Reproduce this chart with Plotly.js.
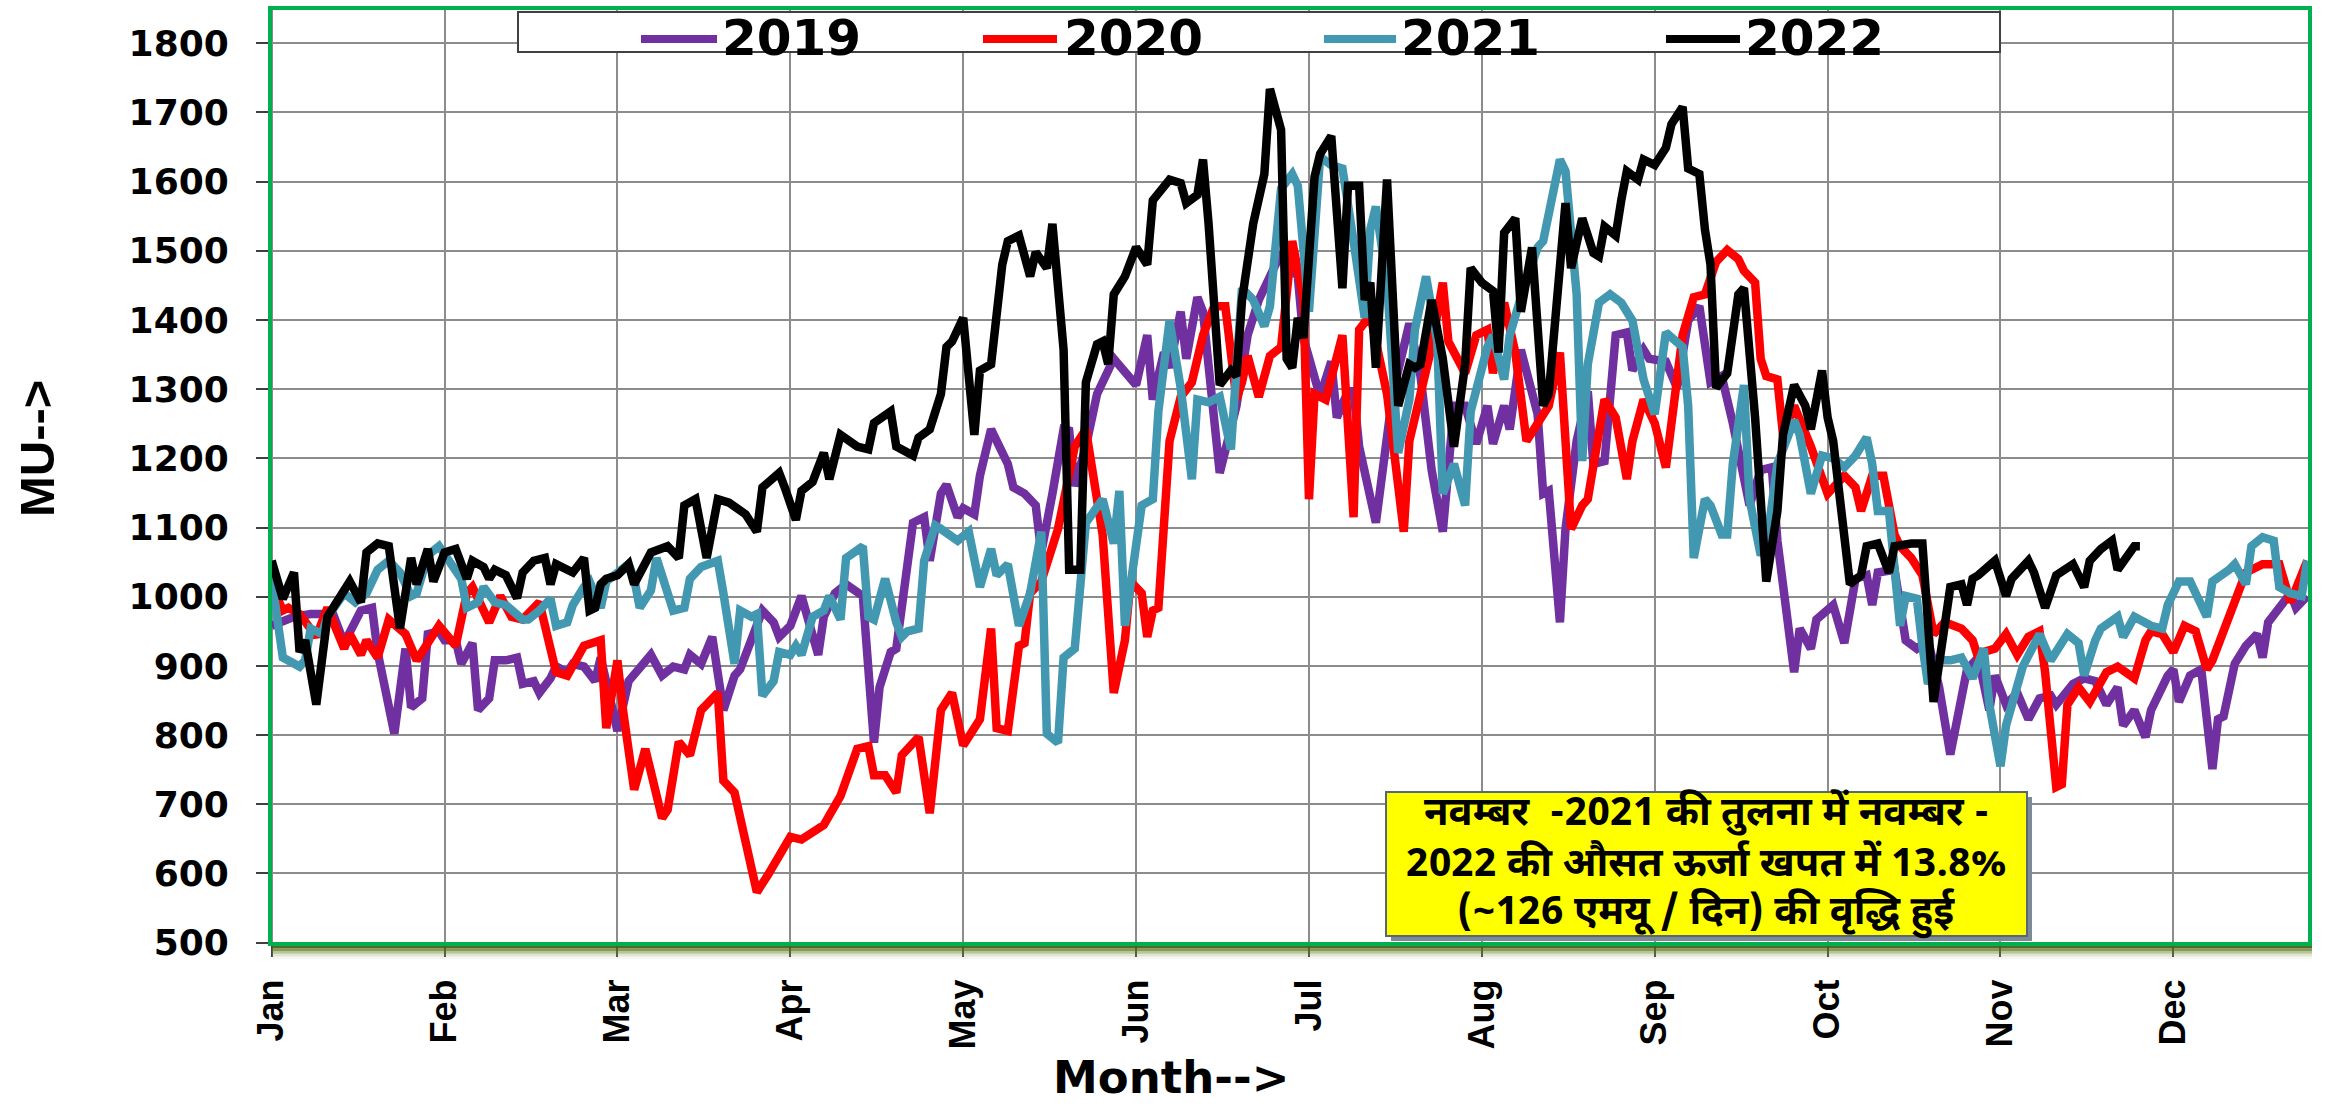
<!DOCTYPE html>
<html>
<head>
<meta charset="utf-8">
<script src="https://cdn.plot.ly/plotly-3.0.1.min.js"></script>
<style>
html,body{margin:0;padding:0;background:#ffffff;}
#chart{width:2328px;height:1108px;}
</style>
</head>
<body>
<div id="chart"></div>
<script>
// ---- data: [day of year index, MU] ----
const pts2019 = [[0,958],[4,971],[7,975],[11,975],[13,933],[16,980],[18,984],[19,920],[22,802],[23,869],[24,925],[25,840],[27,853],[28,946],[30,950],[31,937],[33,937],[34,903],[36,933],[37,836],[39,853],[40,908],[42,908],[44,912],[45,874],[47,878],[48,861],[50,882],[51,899],[53,891],[54,903],[56,899],[58,878],[59,912],[62,806],[64,878],[66,899],[68,916],[70,886],[72,899],[74,895],[75,916],[77,903],[79,942],[81,836],[83,886],[84,895],[86,937],[88,980],[90,963],[91,942],[93,958],[95,1001],[98,916],[99,971],[101,1005],[103,1018],[106,1001],[107,912],[108,789],[109,869],[111,920],[112,925],[114,1060],[115,1107],[117,1115],[118,1052],[120,1149],[121,1162],[123,1115],[124,1128],[126,1119],[127,1175],[129,1242],[132,1192],[133,1158],[135,1149],[137,1132],[138,1064],[140,1149],[142,1242],[143,1240],[144,1160],[146,1217],[148,1293],[151,1344],[153,1327],[155,1306],[157,1378],[158,1285],[160,1353],[161,1331],[163,1412],[164,1344],[166,1433],[167,1412],[170,1179],[173,1276],[175,1378],[177,1429],[181,1497],[182,1480],[184,1463],[185,1374],[188,1289],[190,1340],[191,1259],[193,1297],[194,1297],[195,1217],[198,1107],[199,1166],[201,1293],[204,1395],[206,1319],[208,1183],[210,1094],[212,1276],[214,1276],[216,1221],[218,1276],[219,1221],[221,1276],[222,1242],[224,1357],[227,1264],[228,1149],[229,1153],[231,963],[232,1098],[234,1225],[236,1297],[237,1192],[239,1196],[241,1378],[243,1382],[244,1327],[246,1357],[247,1344],[250,1340],[252,1302],[254,1399],[256,1420],[258,1310],[260,1319],[262,1251],[265,1132],[267,1183],[269,1187],[270,1081],[273,891],[274,954],[276,925],[277,967],[278,975],[280,988],[282,933],[283,988],[284,1026],[286,1031],[287,988],[288,1035],[291,1039],[293,937],[295,925],[297,937],[299,869],[301,772],[303,848],[304,895],[306,912],[308,836],[309,886],[311,844],[313,861],[315,823],[317,853],[319,857],[320,844],[323,874],[325,882],[327,878],[329,844],[331,869],[332,814],[334,836],[336,797],[337,836],[340,886],[341,895],[342,848],[344,886],[346,895],[348,751],[349,823],[350,827],[352,903],[354,929],[356,946],[357,912],[358,963],[360,984],[362,1005],[363,984],[365,1001]];

const pts2020 = [[0,1018],[2,980],[3,984],[5,975],[8,942],[10,984],[13,925],[14,946],[16,916],[17,937],[19,912],[21,967],[24,946],[26,908],[28,933],[30,958],[33,929],[35,1005],[36,1014],[39,963],[41,1001],[43,971],[45,967],[48,992],[51,891],[53,886],[56,929],[59,937],[60,810],[62,908],[63,836],[65,721],[67,780],[70,680],[71,692],[73,790],[75,771],[77,836],[80,861],[81,734],[83,717],[87,573],[89,598],[93,653],[95,649],[97,661],[99,670],[102,712],[103,734],[105,780],[107,784],[108,742],[110,742],[112,717],[113,771],[116,797],[118,687],[120,836],[122,861],[124,785],[127,823],[129,954],[130,810],[132,806],[134,929],[135,933],[136,1005],[138,1022],[141,1098],[143,1170],[144,1217],[146,1242],[149,1090],[151,861],[153,937],[154,1022],[156,1005],[157,942],[158,980],[159,984],[161,1225],[163,1289],[165,1310],[167,1378],[169,1420],[171,1420],[173,1285],[174,1310],[175,1348],[177,1289],[179,1348],[181,1361],[183,1514],[185,1430],[186,1141],[187,1293],[189,1285],[192,1378],[194,1115],[195,1386],[197,1407],[200,1293],[203,1094],[204,1225],[206,1293],[208,1361],[210,1454],[211,1369],[214,1323],[216,1378],[218,1386],[219,1323],[221,1425],[223,1353],[225,1225],[227,1251],[229,1276],[231,1353],[233,1098],[235,1132],[236,1141],[239,1285],[241,1259],[243,1170],[244,1225],[246,1285],[248,1251],[250,1187],[252,1327],[253,1378],[255,1433],[257,1437],[259,1484],[261,1501],[263,1488],[264,1471],[266,1454],[267,1344],[268,1319],[270,1314],[271,1234],[273,1276],[276,1217],[279,1149],[282,1175],[284,1158],[285,1124],[287,1175],[289,1175],[291,1090],[292,1073],[294,1056],[296,1031],[298,946],[300,963],[303,954],[305,937],[306,912],[307,920],[309,925],[311,946],[313,916],[315,942],[317,950],[318,891],[320,725],[321,729],[322,844],[324,869],[326,848],[329,891],[331,899],[334,882],[336,937],[337,950],[339,946],[341,920],[343,958],[345,950],[347,895],[348,908],[351,971],[353,1014],[354,1035],[357,1047],[360,1047],[362,992],[363,1014],[365,1052]];

const pts2021 = [[0,1026],[2,912],[5,899],[6,908],[7,954],[9,946],[10,971],[13,1005],[15,992],[17,1005],[19,1039],[21,1052],[23,1035],[25,1001],[26,1005],[28,1060],[30,1073],[31,1060],[34,1026],[35,984],[37,992],[38,1014],[40,992],[42,988],[45,967],[46,967],[48,980],[50,997],[51,958],[53,963],[54,988],[56,1014],[57,1022],[59,984],[60,1022],[64,1047],[65,1026],[66,984],[68,1009],[69,1056],[71,1005],[72,980],[74,984],[75,1026],[77,1043],[80,1052],[81,1005],[83,903],[84,980],[86,971],[87,975],[88,857],[90,878],[91,920],[93,916],[94,929],[95,916],[97,971],[99,980],[100,1001],[102,967],[103,1056],[106,1073],[107,971],[108,967],[110,1026],[112,963],[113,942],[114,950],[116,954],[117,1052],[119,1103],[120,1098],[122,1085],[123,1081],[125,1094],[127,1014],[129,1069],[130,1031],[132,1047],[134,958],[136,1005],[138,1094],[139,802],[141,789],[142,912],[144,925],[146,1107],[149,1141],[151,1077],[152,1153],[153,958],[155,1073],[156,1132],[158,1141],[159,1268],[161,1399],[163,1302],[165,1170],[166,1285],[168,1281],[170,1289],[172,1213],[174,1446],[176,1429],[178,1391],[179,1420],[181,1590],[183,1611],[184,1594],[186,1412],[188,1636],[190,1624],[192,1619],[194,1514],[196,1403],[197,1531],[198,1564],[200,1454],[202,1208],[204,1285],[205,1386],[207,1463],[209,1369],[210,1149],[212,1192],[214,1132],[215,1268],[218,1361],[219,1378],[221,1314],[222,1378],[224,1433],[227,1505],[228,1514],[231,1632],[232,1615],[234,1437],[235,1196],[236,1336],[238,1425],[240,1437],[242,1425],[244,1399],[246,1314],[248,1264],[250,1382],[252,1369],[253,1361],[254,1276],[255,1056],[257,1141],[258,1132],[260,1090],[261,1090],[262,1192],[264,1306],[265,1141],[267,1060],[268,1073],[270,1192],[273,1255],[274,1234],[276,1149],[277,1175],[278,1204],[280,1200],[282,1187],[284,1204],[286,1230],[287,1192],[288,1124],[290,1124],[292,958],[293,1001],[295,997],[296,929],[297,874],[299,908],[301,908],[303,912],[305,882],[307,925],[308,844],[310,755],[311,814],[314,899],[316,933],[317,946],[319,908],[322,946],[324,933],[325,886],[327,937],[328,954],[331,971],[332,942],[334,971],[337,958],[339,954],[340,988],[342,1022],[344,1022],[347,971],[348,1022],[351,1039],[352,1047],[354,1018],[355,1073],[357,1086],[359,1081],[360,1014],[362,1005],[364,1001],[365,1052]];

const pts2022 = [[0,1052],[2,997],[4,1035],[5,920],[6,937],[8,844],[10,971],[14,1022],[16,992],[17,1064],[19,1077],[21,1073],[23,954],[25,1056],[26,1018],[28,1069],[29,1022],[31,1064],[33,1069],[35,1026],[36,1052],[38,1043],[39,1026],[40,1039],[42,1031],[44,998],[45,1035],[47,1052],[49,1056],[50,1018],[51,1047],[54,1035],[56,1056],[57,980],[58,984],[59,1018],[60,1026],[62,1031],[64,1047],[65,1018],[68,1064],[71,1073],[73,1056],[74,1132],[76,1141],[78,1056],[80,1141],[82,1136],[85,1119],[87,1094],[88,1158],[91,1179],[92,1158],[94,1111],[95,1153],[97,1166],[99,1208],[100,1170],[102,1234],[105,1217],[107,1213],[108,1251],[111,1268],[112,1217],[115,1204],[116,1230],[118,1242],[120,1293],[121,1361],[122,1369],[124,1403],[126,1234],[127,1327],[129,1336],[131,1480],[132,1514],[134,1522],[136,1463],[137,1498],[139,1475],[140,1539],[142,1357],[143,1039],[145,1039],[146,1310],[148,1365],[149,1369],[150,1336],[151,1437],[153,1463],[155,1505],[157,1480],[158,1573],[161,1603],[163,1598],[164,1569],[166,1581],[167,1632],[168,1539],[170,1306],[172,1327],[173,1319],[174,1429],[176,1539],[178,1611],[179,1734],[181,1675],[182,1344],[183,1331],[184,1403],[185,1374],[187,1607],[188,1640],[190,1666],[192,1446],[193,1594],[195,1594],[196,1429],[197,1454],[198,1331],[200,1603],[202,1276],[204,1336],[205,1331],[206,1336],[208,1429],[210,1344],[212,1217],[214,1336],[215,1475],[217,1454],[219,1442],[220,1353],[221,1526],[223,1547],[224,1412],[226,1505],[228,1276],[229,1293],[232,1569],[233,1475],[235,1547],[237,1497],[238,1492],[239,1535],[241,1522],[242,1573],[243,1615],[245,1603],[246,1632],[248,1624],[250,1649],[251,1683],[253,1708],[254,1619],[256,1611],[257,1531],[258,1480],[259,1302],[261,1323],[263,1437],[264,1446],[266,1259],[268,1022],[270,1124],[271,1234],[273,1306],[275,1276],[276,1242],[278,1327],[279,1259],[280,1225],[283,1018],[285,1031],[286,1073],[288,1077],[290,1035],[291,1073],[294,1077],[296,1077],[298,848],[301,1014],[303,1018],[304,988],[305,1026],[306,1031],[309,1052],[311,1001],[312,1026],[315,1052],[316,1035],[318,984],[320,1031],[323,1047],[325,1014],[326,1052],[328,1069],[330,1081],[331,1039],[334,1073],[335,1073]];

const seriesNames = ['2019', '2020', '2021', '2022'];
const seriesColors = ['#7030A0', '#FF0000', '#4298B0', '#000000'];
const monthTickDays = [0, 31, 62, 93, 124, 155, 186, 217, 248, 279, 310, 341];
const monthLabels = ['Jan', 'Feb', 'Mar', 'Apr', 'May', 'Jun', 'Jul', 'Aug', 'Sep', 'Oct', 'Nov', 'Dec'];
const noteLines = [
  'नवम्बर  -2021 की तुलना में नवम्बर -',
  '2022 की औसत ऊर्जा खपत में 13.8%',
  '(~126 एमयू / दिन) की वृद्धि हुई'
];
const xTitle = 'Month-->';
const yTitle = 'MU-->';

// ---- geometry helpers (pixel -> paper) ----
const W = 2328, H = 1108, ML = 270, MR = 18, MT = 8, MB = 164;
const PW = W - ML - MR, PH = H - MT - MB;
const px = x => (x - ML) / PW;
const py = y => (H - MB - y) / PH;

const allPts = [pts2019, pts2020, pts2021, pts2022];
const traces = allPts.map((pts, i) => ({
  type: 'scatter',
  mode: 'lines',
  name: seriesNames[i],
  x: pts.map(p => p[0]),
  y: pts.map(p => p[1]),
  line: {color: seriesColors[i], width: 8.5, shape: 'linear'},
  showlegend: false,
  hoverinfo: 'skip'
}));

const shapes = [];
const annotations = [];

// bottom shadow under plot frame
const shadowCols = ['rgba(74,100,20,0.95)', 'rgba(95,120,35,0.75)', 'rgba(120,140,60,0.5)', 'rgba(150,165,90,0.28)', 'rgba(180,190,130,0.12)'];
shadowCols.forEach((c, k) => {
  shapes.push({type: 'rect', xref: 'paper', yref: 'paper', layer: 'above',
    x0: px(272), x1: px(2312), y0: py(946 + 2.6 * (k + 1)), y1: py(946 + 2.6 * k),
    fillcolor: c, line: {width: 0}});
});
// plot frame
shapes.push({type: 'rect', xref: 'paper', yref: 'paper', layer: 'above',
  x0: 0, x1: 1, y0: 0, y1: 1, line: {color: '#00B050', width: 4}, fillcolor: 'rgba(0,0,0,0)'});

// legend box (custom)
shapes.push({type: 'rect', xref: 'paper', yref: 'paper', layer: 'above',
  x0: px(518), x1: px(2000), y0: py(52), y1: py(12),
  fillcolor: '#FFFFFF', line: {color: '#404040', width: 2}});
const legSample = [[641, 717], [983, 1057], [1324, 1396], [1666, 1740]];
const legText = [720, 1062, 1399, 1743];
seriesNames.forEach((n, i) => {
  shapes.push({type: 'line', xref: 'paper', yref: 'paper', layer: 'above',
    x0: px(legSample[i][0]), x1: px(legSample[i][1]), y0: py(39), y1: py(39),
    line: {color: seriesColors[i], width: 8}});
  annotations.push({xref: 'paper', yref: 'paper', x: px(legText[i]), y: py(38),
    xanchor: 'left', yanchor: 'middle', showarrow: false, text: n,
    font: {family: 'DejaVu Sans', size: 50, color: '#000000', weight: 'bold'}});
});

// note box
shapes.push({type: 'rect', xref: 'paper', yref: 'paper', layer: 'above',
  x0: px(1391), x1: px(2032), y0: py(941), y1: py(797),
  fillcolor: '#7d8a96', line: {width: 0}});
shapes.push({type: 'rect', xref: 'paper', yref: 'paper', layer: 'above',
  x0: px(1386), x1: px(2027), y0: py(936), y1: py(792),
  fillcolor: '#FFFF00', line: {color: '#56677a', width: 2}});
const noteY = [815, 866, 914];
noteLines.forEach((t, i) => {
  annotations.push({xref: 'paper', yref: 'paper', x: px(1706), y: py(noteY[i]),
    xanchor: 'center', yanchor: 'middle', showarrow: false, text: t,
    font: {family: 'Noto Sans Devanagari, Lohit Devanagari, Mangal, Noto Sans, sans-serif', size: 40, color: '#000000', weight: 'bold'}});
});

// axis titles
annotations.push({xref: 'paper', yref: 'paper', x: px(1171), y: py(1106),
  xanchor: 'center', yanchor: 'bottom', showarrow: false, text: xTitle,
  font: {family: 'DejaVu Sans', size: 45, color: '#000000', weight: 'bold'}});
annotations.push({xref: 'paper', yref: 'paper', x: px(37), y: py(449),
  xanchor: 'center', yanchor: 'middle', showarrow: false, text: yTitle, textangle: -90,
  font: {family: 'Liberation Sans', size: 49, color: '#000000', weight: 'bold'}});

const layout = {
  width: W, height: H,
  margin: {l: ML, r: MR, t: MT, b: MB, pad: 0},
  paper_bgcolor: '#FFFFFF', plot_bgcolor: '#FFFFFF',
  showlegend: false,
  xaxis: {
    range: [-0.3, 365.5],
    tickmode: 'array', tickvals: monthTickDays, ticktext: monthLabels,
    tickangle: -90,
    tickfont: {family: 'Liberation Sans', size: 36, color: '#000000', weight: 'bold'},
    showgrid: true, gridcolor: '#8c8c8c', gridwidth: 2,
    zeroline: false, showline: false,
    ticks: 'outside', ticklen: 12, tickwidth: 2, tickcolor: '#404040',
    ticklabelstandoff: 8,
    fixedrange: true
  },
  yaxis: {
    range: [498, 1851],
    tickmode: 'linear', tick0: 500, dtick: 100,
    tickfont: {family: 'DejaVu Sans', size: 36, color: '#000000', weight: 'bold'},
    showgrid: true, gridcolor: '#8c8c8c', gridwidth: 2,
    zeroline: false, showline: false,
    ticks: 'outside', ticklen: 13, tickwidth: 2, tickcolor: '#404040',
    ticklabelstandoff: 20,
    fixedrange: true
  },
  shapes: shapes,
  annotations: annotations
};

Plotly.newPlot('chart', traces, layout, {displayModeBar: false, staticPlot: true});
</script>
</body>
</html>
